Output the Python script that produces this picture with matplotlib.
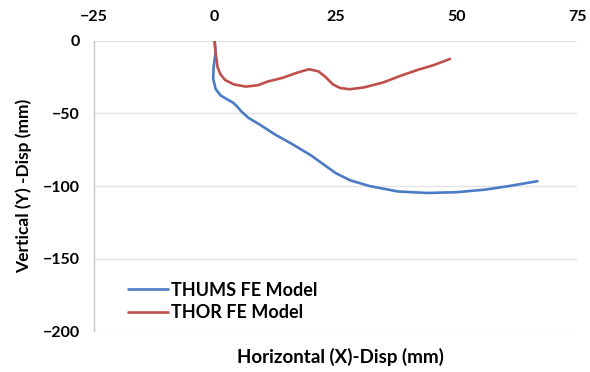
import matplotlib
matplotlib.use("Agg")
import matplotlib.pyplot as plt

# THUMS FE model trajectory (x, y in mm)
thums_x = [0, 0.2, -0.2, -0.3, 0.2, 1.2, 2.7, 3.8, 4.6, 5.5, 7, 9.5, 12.5, 16, 20,
           22.5, 25, 28, 32, 38, 44, 50, 56, 61, 66.8]
thums_y = [0, -8, -18, -26, -33, -37.5, -40.5, -42.5, -45, -48.5, -53, -58, -64.5, -71, -79,
           -85, -91, -96, -100, -103.8, -104.8, -104.3, -102.5, -100, -96.7]

# THOR FE model trajectory
thor_x = [0, 0.2, 0.6, 1.2, 2.2, 4, 6.5, 9, 11, 14, 17, 19.5, 21.5, 23, 24.5, 26, 28,
          31, 35, 38.5, 42, 45.5, 48.7]
thor_y = [0, -8, -18, -23, -27, -30, -31.5, -30.5, -28, -25.5, -22, -19.5, -21, -25, -30,
          -32.5, -33.3, -32, -28.5, -24, -20, -16.5, -12.4]

xticks = [-25, 0, 25, 50, 75]
yticks = [0, -50, -100, -150, -200]

plt.rcParams['font.family'] = ['Lato', 'DejaVu Sans']
plt.rcParams['font.weight'] = 'bold'

fig = plt.figure(figsize=(5.9, 3.72), dpi=100)
ax = fig.add_axes([0.159, 0.110, 0.819, 0.780])

ax.plot(thums_x, thums_y, color='#4a7bc4', lw=1.9, label='THUMS FE Model',
        solid_joinstyle='round', solid_capstyle='round')
ax.plot(thor_x, thor_y, color='#c0504d', lw=1.9, label='THOR FE Model',
        solid_joinstyle='round', solid_capstyle='round')

ax.set_xlim(-25, 75)
ax.set_ylim(-200, 0)
ax.set_xticks(xticks)
ax.set_yticks(yticks)
ax.xaxis.tick_top()
ax.xaxis.set_label_position('bottom')
ax.tick_params(length=0, labelsize=11.5)
ax.tick_params(axis='x', pad=12)
ax.tick_params(axis='y', pad=10)

ax.grid(axis='y', color='#e3e3e3', lw=1)
ax.set_axisbelow(True)
for s in ['top', 'right', 'bottom']:
    ax.spines[s].set_visible(False)
ax.spines['left'].set_color('#c8c8c8')
ax.spines['left'].set_linewidth(1)

ax.set_xlabel('Horizontal (X)-Disp (mm)', fontsize=13.5, fontweight='bold', labelpad=12)
ax.set_ylabel('Vertical (Y) -Disp (mm)', fontsize=12.5, fontweight='bold', labelpad=8)
ax.xaxis.label.set_x(0.51)

ax.legend(loc='lower left', bbox_to_anchor=(0.05, 0.0), frameon=False, fontsize=13,
          handlelength=2.2, handletextpad=0.2, labelspacing=0.3, borderaxespad=0.15)

fig.savefig('out.png', dpi=100)
